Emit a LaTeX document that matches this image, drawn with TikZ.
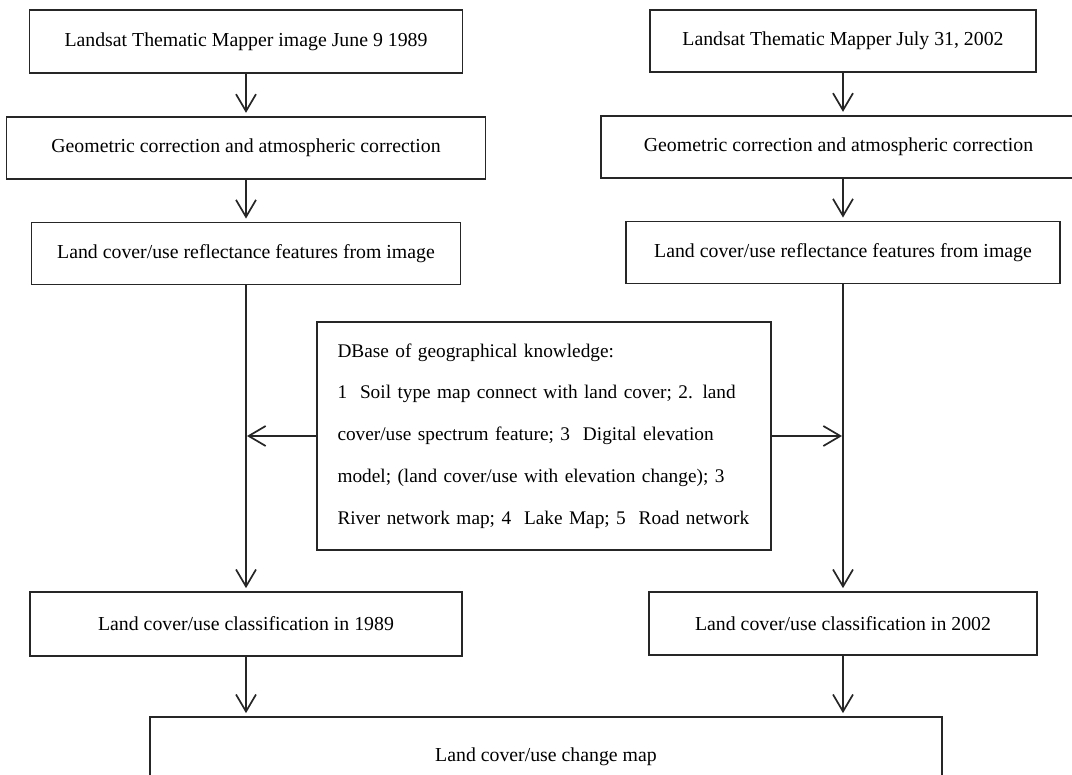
\documentclass[tikz,border=0pt]{standalone}
\usepackage{fontspec}
\setmainfont{Liberation Serif}
\usetikzlibrary{arrows.meta, positioning}

\begin{document}
\begin{tikzpicture}[
    x=1pt, y=-1pt,
    node distance=42pt,
    font=\fontsize{19.8}{24}\selectfont,
    block/.style={rectangle, draw=black!85, line width=1.7pt, text centered, inner sep=0pt, minimum height=62pt},
    line/.style={draw=black!85, line width=1.7pt, -{Straight Barb[length=17pt, width=20pt, line width=1.7pt]}, shorten >=3pt}
]
    \useasboundingbox (0,0) rectangle (1072,775);
    \clip (0,0) rectangle (1072,775);

    % 1989 column
    \node [block, minimum width=433pt, minimum height=63pt] (img89) at (246,41.5) {Landsat Thematic Mapper image June 9 1989};
    \node [block, minimum width=479pt, below=of img89] (geo89) {Geometric correction and atmospheric correction};
    \node [block, minimum width=429pt, below=of geo89] (refl89) {Land cover/use reflectance features from image};
    \node [block, minimum width=432pt, minimum height=64pt] (cls89) at (246,624) {Land cover/use classification in 1989};

    % 2002 column
    \node [block, minimum width=386pt] (img02) at (843,41) {Landsat Thematic Mapper July 31, 2002};
    \node [block, minimum width=475pt, below=of img02, xshift=-4.5pt] (geo02) {Geometric correction and atmospheric correction};
    \node [block, minimum width=434pt, below=42pt of img02.south |- geo02.south] (refl02) {Land cover/use reflectance features from image};
    \node [block, minimum width=388pt, minimum height=63pt] (cls02) at (843,623.5) {Land cover/use classification in 2002};

    % knowledge base
    \node [block, minimum width=454pt, minimum height=228pt, text width=413pt, align=left,
           font=\fontsize{19.3}{41.75}\selectfont] (kbase) at (544,436) {DBase of geographical knowledge:\\
        \makebox[413pt][s]{1\ \ Soil type map connect with land cover; 2. land}\\
        \makebox[413pt][s]{cover/use spectrum feature; 3\ \ Digital elevation}\\
        \makebox[413pt][s]{model; (land cover/use with elevation change); 3}\\
        \makebox[413pt][s]{River network map; 4\ \ Lake Map; 5\ \ Road network}};

    \node [block, minimum width=792pt, minimum height=80pt] (change) at (546,757) {Land cover/use change map};

    \path [line] (img89) -- (geo89);
    \path [line] (geo89) -- (refl89);
    \path [line] (refl89) -- (cls89);
    \path [line] (img02.south) -- (img02.south |- geo02.north);
    \path [line] (refl02.north |- geo02.south) -- (refl02.north);
    \path [line] (refl02) -- (cls02);
    \path [line, shorten >=1pt] (kbase.west) -- (kbase.west -| refl89.south);
    \path [line, shorten >=1pt] (kbase.east) -- (kbase.east -| refl02.south);
    \path [line] (cls89.south) -- (cls89.south |- change.north);
    \path [line] (cls02.south) -- (cls02.south |- change.north);
\end{tikzpicture}
\end{document}
